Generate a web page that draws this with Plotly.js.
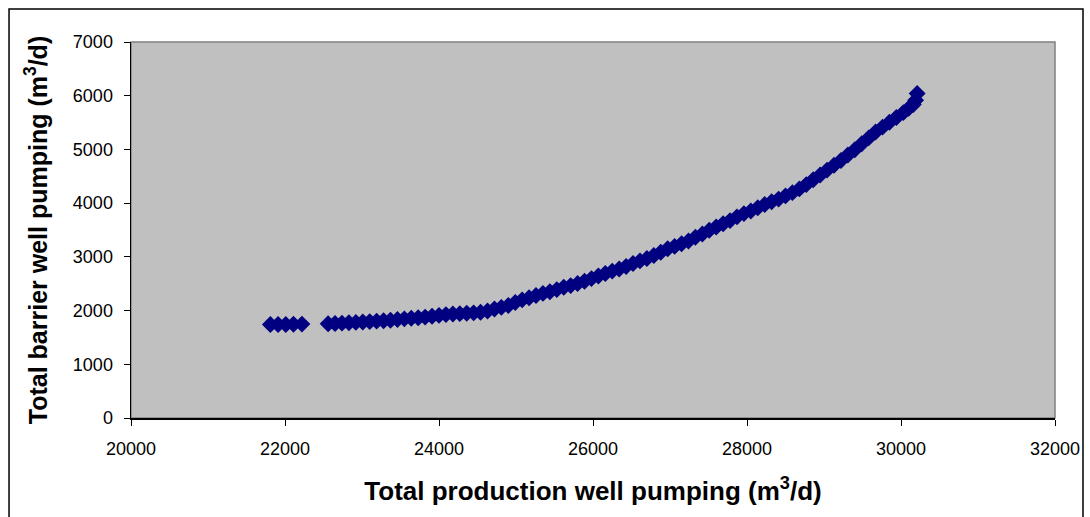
<!DOCTYPE html>
<html>
<head>
<meta charset="utf-8">
<script src="https://cdn.plot.ly/plotly-3.0.1.min.js"></script>
<style>
html,body{margin:0;padding:0;background:#fff;}
#chart{width:1090px;height:517px;}
</style>
</head>
<body>
<div id="chart"></div>
<script>
// Total production well pumping (m3/d)
var productionPumping = [
  21810, 21910, 22010, 22110, 22220,
  22560, 22650, 22740, 22830, 22920, 23010, 23100, 23190, 23280, 23370,
  23460, 23550, 23640, 23730, 23820, 23910, 24000, 24090, 24180, 24270,
  24360, 24450, 24540, 24630, 24720, 24810, 24900, 24990, 25080, 25170,
  25260, 25350, 25440, 25530, 25620, 25710, 25800, 25890, 25980, 26070,
  26160, 26250, 26340, 26430, 26520, 26610, 26700, 26790, 26880, 26970,
  27060, 27150, 27240, 27330, 27420, 27510, 27600, 27690, 27780, 27870,
  27960, 28050, 28140, 28230, 28320, 28410, 28500, 28590, 28680, 28770,
  28860, 28950, 29040, 29130, 29220, 29310, 29400, 29490, 29580, 29670,
  29760, 29850, 29940, 30030, 30100, 30160, 30190, 30210
];
// Total barrier well pumping (m3/d)
var barrierPumping = [
  1740, 1740, 1742, 1745, 1748,
  1755, 1760, 1766, 1772, 1780, 1787, 1795, 1803, 1810, 1820,
  1833, 1846, 1856, 1866, 1878, 1893, 1910, 1925, 1935, 1943,
  1950, 1958, 1970, 1992, 2030, 2060, 2095, 2150, 2200, 2240,
  2280, 2320, 2350, 2390, 2435, 2465, 2505, 2545, 2595, 2645,
  2690, 2735, 2775, 2820, 2875, 2925, 2970, 3025, 3085, 3150,
  3195, 3245, 3295, 3365, 3425, 3495, 3555, 3615, 3675, 3745,
  3805, 3855, 3915, 3975, 4025, 4075, 4135, 4195, 4265, 4345,
  4435, 4525, 4615, 4705, 4795, 4895, 4995, 5105, 5215, 5325,
  5415, 5505, 5595, 5685, 5765, 5835, 5915, 6040
];
var xTickVals = [20000, 22000, 24000, 26000, 28000, 30000, 32000];
var yTickVals = [0, 1000, 2000, 3000, 4000, 5000, 6000, 7000];

var trace = {
  x: productionPumping,
  y: barrierPumping,
  type: 'scatter',
  mode: 'markers',
  marker: {symbol: 'diamond', size: 13, color: '#000080', line: {width: 0}},
  hoverinfo: 'x+y'
};

var fontFam = 'Arial, "Liberation Sans", sans-serif';

var layout = {
  width: 1090,
  height: 517,
  margin: {l: 131, r: 35, t: 42, b: 99, pad: 0},
  paper_bgcolor: '#ffffff',
  plot_bgcolor: '#c0c0c0',
  showlegend: false,
  font: {family: fontFam, color: '#000', size: 18},
  xaxis: {
    range: [20000, 32000],
    tickvals: xTickVals,
    ticktext: xTickVals.map(String),
    showgrid: false,
    zeroline: false,
    showline: true,
    linecolor: '#000',
    linewidth: 1.5,
    ticks: 'outside',
    ticklen: 6,
    tickcolor: '#000',
    ticklabelstandoff: 8,
    tickfont: {family: fontFam, size: 18, color: '#000'},
    automargin: false,
    title: {text: '<b>Total production well pumping (m<sup>3</sup>/d)</b>', font: {family: fontFam, size: 26, color: '#000'}, standoff: 23}
  },
  yaxis: {
    range: [0, 7000],
    tickvals: yTickVals,
    ticktext: yTickVals.map(String),
    showgrid: false,
    zeroline: false,
    showline: true,
    linecolor: '#000',
    linewidth: 1.5,
    ticks: 'outside',
    ticklen: 6,
    tickcolor: '#000',
    ticklabelstandoff: 7,
    tickfont: {family: fontFam, size: 18, color: '#000'},
    automargin: false,
    title: {text: '<b>Total barrier well pumping (m<sup>3</sup>/d)</b>', font: {family: fontFam, size: 25, color: '#000'}, standoff: 18}
  },
  shapes: [
    {type: 'rect', xref: 'paper', yref: 'paper', x0: 0, x1: 1, y0: 0, y1: 1,
     line: {color: '#808080', width: 1.5}, fillcolor: 'rgba(0,0,0,0)', layer: 'below'},
    {type: 'rect', xref: 'paper', yref: 'paper', x0: -0.132, x1: 1.0303, y0: -0.3, y1: 1.0878,
     line: {color: '#000', width: 1.5}, fillcolor: 'rgba(0,0,0,0)', layer: 'below'}
  ]
};

Plotly.newPlot('chart', [trace], layout, {displayModeBar: false, staticPlot: true});
</script>
</body>
</html>
